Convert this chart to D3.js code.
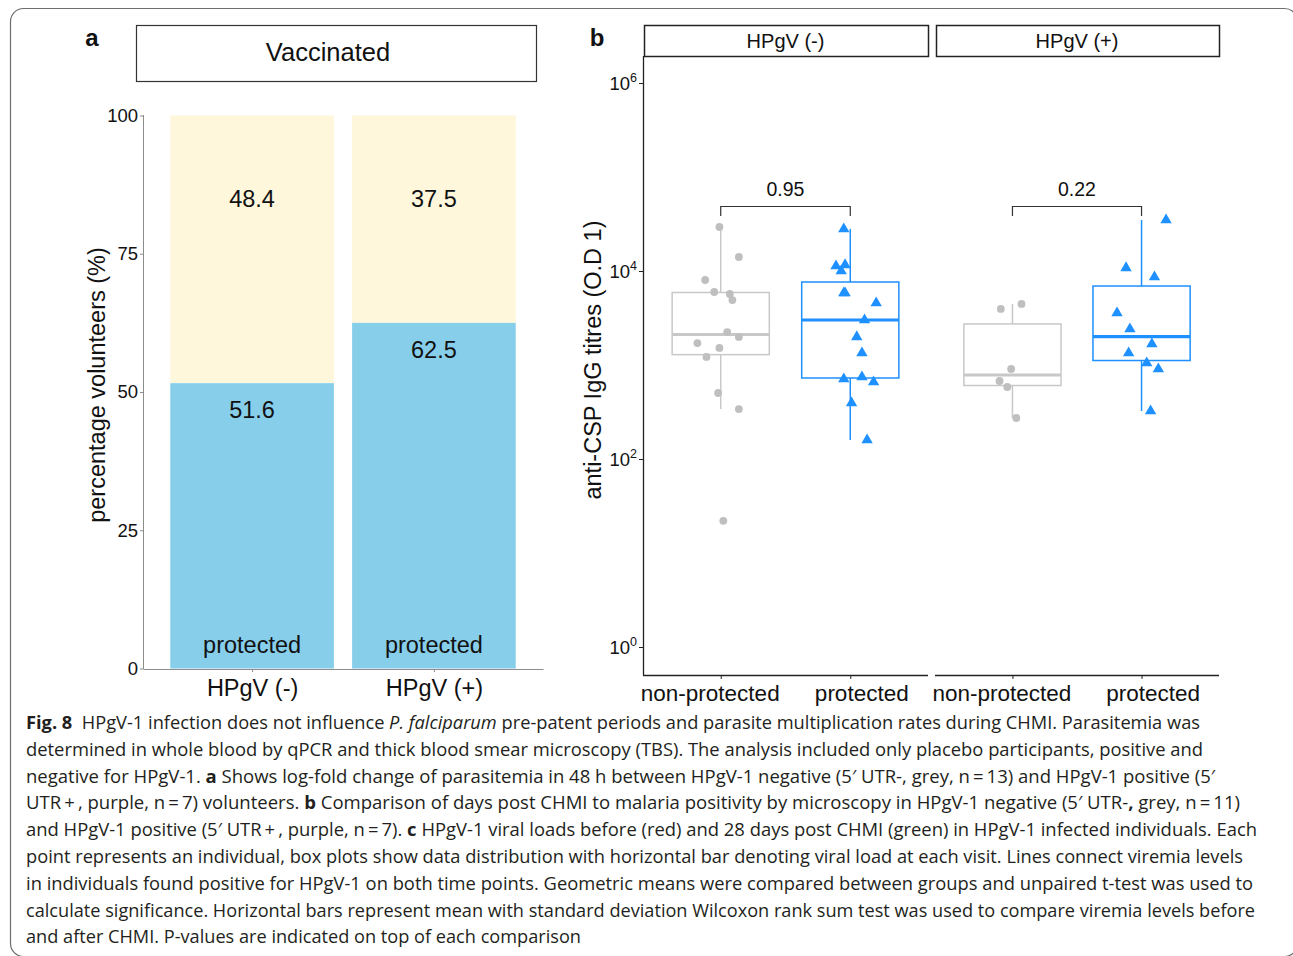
<!DOCTYPE html>
<html>
<head>
<meta charset="utf-8">
<script src="https://cdn.jsdelivr.net/npm/d3@7"></script>
<style>
  body { margin: 0; background: #fff; }
  svg { display: block; }
  .chart text { font-family: 'Liberation Sans', Arial, sans-serif; fill: #111; }
  .caption text { font-family: 'Open Sans', 'Noto Sans', sans-serif; fill: #231f20; }
</style>
</head>
<body>
<div id="fig"></div>
<script>
// ---- panel a: stacked percentages
const groupsA = ['HPgV (-)', 'HPgV (+)'];
const protectedPct = [51.6, 62.5];
const nonProtectedPct = [48.4, 37.5];
const pctTicks = [0, 25, 50, 75, 100];

// ---- panel b: anti-CSP IgG titres
const facets = ['HPgV (-)', 'HPgV (+)'];
const outcomes = ['non-protected', 'protected'];
const titrePowers = [0, 2, 4, 6];
const pValues = ['0.95', '0.22'];

const negNonProt = [29400, 14100, 8020, 5980, 5690, 4910, 2240, 1990, 1710, 1520, 1220, 504, 340, 22];
const negNonProtJitter = [-0.01, 0.14, -0.12, -0.05, 0.07, 0.09, 0.05, 0.14, -0.18, -0.01, -0.11, -0.02, 0.14, 0.02];
const negProt = [28000, 11600, 11300, 10000, 5830, 5830, 4570, 3010, 1990, 1340, 745, 710, 660, 394, 159];
const negProtJitter = [-0.05, -0.04, -0.11, -0.07, -0.05, -0.04, 0.20, 0.11, 0.05, 0.09, 0.09, -0.05, 0.18, 0.01, 0.13];
const posNonProt = [4460, 3950, 906, 676, 583, 273];
const posNonProtJitter = [0.07, -0.09, -0.01, -0.10, -0.04, 0.03];
const posProt = [34900, 10800, 8630, 3570, 2410, 1670, 1340, 1050, 906, 324];
const posProtJitter = [0.19, -0.12, 0.10, -0.19, -0.09, 0.08, -0.10, 0.04, 0.13, 0.07];

const colours = { 'non-protected': '#bfbfbf', 'protected': '#1e90ff' };
const boxColours = { 'non-protected': '#c8c8c8', 'protected': '#1e90ff' };

const $svg = d3.select('#fig').append('svg')
  .attr('width', 1293)
  .attr('height', 956);

// outer frame
$svg.append('rect')
  .attr('x', 10.5).attr('y', 8.5)
  .attr('width', 1287).attr('height', 948)
  .attr('rx', 13)
  .attr('fill', 'none')
  .attr('stroke', '#6d6e71')
  .attr('stroke-width', 1.2);

const $chart = $svg.append('g').attr('class', 'chart');

// ===== panel a =====
const ya = d3.scaleLinear().domain([0, 100]).range([668.5, 115.5]);
const xa = d3.scalePoint().domain(groupsA).range([143, 543]).padding(0.6);
const barW = xa.step() * 0.9;

const dataA = groupsA.map((g, i) => ({ group: g, prot: protectedPct[i], non: nonProtectedPct[i] }));

$chart.append('text')
  .attr('x', 92).attr('y', 37)
  .attr('text-anchor', 'middle').attr('dominant-baseline', 'central')
  .attr('font-size', 24).attr('font-weight', 700)
  .text('a');

$chart.append('rect')
  .attr('x', 136.5).attr('y', 25.5).attr('width', 400).attr('height', 56)
  .attr('fill', '#fff').attr('stroke', '#333').attr('stroke-width', 1.2);
$chart.append('text')
  .attr('x', 328).attr('y', 52)
  .attr('text-anchor', 'middle').attr('dominant-baseline', 'central')
  .attr('font-size', 25.5)
  .text('Vaccinated');

const $barsA = $chart.append('g').selectAll('g')
  .data(dataA).enter().append('g');

$barsA.append('rect')
  .attr('x', d => xa(d.group) - barW / 2)
  .attr('width', barW)
  .attr('y', d => ya(100))
  .attr('height', d => ya(d.prot) - ya(100))
  .attr('fill', '#fef7dc');

$barsA.append('rect')
  .attr('x', d => xa(d.group) - barW / 2)
  .attr('width', barW)
  .attr('y', d => ya(d.prot))
  .attr('height', d => ya(0) - ya(d.prot))
  .attr('fill', '#87ceeb');

$barsA.append('text')
  .attr('x', d => xa(d.group))
  .attr('y', d => ya(100) + 83)
  .attr('text-anchor', 'middle').attr('dominant-baseline', 'central')
  .attr('font-size', 23.5)
  .text(d => d.non);

$barsA.append('text')
  .attr('x', d => xa(d.group))
  .attr('y', d => ya(d.prot) + 27)
  .attr('text-anchor', 'middle').attr('dominant-baseline', 'central')
  .attr('font-size', 23.5)
  .text(d => d.prot);

$barsA.append('text')
  .attr('x', d => xa(d.group))
  .attr('y', ya(0) - 24)
  .attr('text-anchor', 'middle').attr('dominant-baseline', 'central')
  .attr('font-size', 23.5)
  .text('protected');

const yAxisA = $chart.append('g')
  .attr('transform', 'translate(143,0)')
  .call(d3.axisLeft(ya).tickValues(pctTicks).tickSize(3).tickSizeOuter(0).tickPadding(2));
yAxisA.selectAll('.domain, line').attr('stroke', '#8c8c8c');
yAxisA.selectAll('text').attr('font-size', 18.5).attr('fill', '#111');
yAxisA.select('.domain').attr('d', 'M0.5,115V669');

const xAxisA = $chart.append('g')
  .attr('transform', 'translate(0,669)')
  .call(d3.axisBottom(xa).tickSize(3).tickSizeOuter(0).tickPadding(7));
xAxisA.selectAll('.domain, line').attr('stroke', '#8c8c8c');
xAxisA.selectAll('text').attr('font-size', 23.5).attr('fill', '#111');

$chart.append('text')
  .attr('transform', 'translate(97,385) rotate(-90)')
  .attr('text-anchor', 'middle').attr('dominant-baseline', 'central')
  .attr('font-size', 23.5)
  .text('percentage volunteers (%)');

// ===== panel b =====
const yb = d3.scaleLog().domain([1, 1e6]).range([647, 83]);
const facetRanges = [[643, 928], [935, 1219]];
const xb = facetRanges.map(r => d3.scalePoint().domain(outcomes).range(r).padding(0.6));
const panelTop = 56, panelBottom = 675;

const groupsB = [
  { facet: 0, outcome: 'non-protected', values: negNonProt, jitter: negNonProtJitter },
  { facet: 0, outcome: 'protected', values: negProt, jitter: negProtJitter },
  { facet: 1, outcome: 'non-protected', values: posNonProt, jitter: posNonProtJitter },
  { facet: 1, outcome: 'protected', values: posProt, jitter: posProtJitter }
];

// box stats on the log scale, like ggplot does
groupsB.forEach(g => {
  const logs = g.values.map(v => Math.log10(v)).sort(d3.ascending);
  const q1 = d3.quantileSorted(logs, 0.25);
  const med = d3.quantileSorted(logs, 0.5);
  const q3 = d3.quantileSorted(logs, 0.75);
  const iqr = q3 - q1;
  const inside = logs.filter(l => l >= q1 - 1.5 * iqr && l <= q3 + 1.5 * iqr);
  g.stats = {
    q1: 10 ** q1, med: 10 ** med, q3: 10 ** q3,
    lo: 10 ** d3.min(inside), hi: 10 ** d3.max(inside)
  };
});

$chart.append('text')
  .attr('x', 597).attr('y', 37)
  .attr('text-anchor', 'middle').attr('dominant-baseline', 'central')
  .attr('font-size', 24).attr('font-weight', 700)
  .text('b');

facets.forEach((f, i) => {
  const [x0, x1] = facetRanges[i];
  $chart.append('rect')
    .attr('x', x0 + 1.5).attr('y', 25.5).attr('width', x1 - x0 - 1).attr('height', 31)
    .attr('fill', '#fff').attr('stroke', '#222').attr('stroke-width', 1.5);
  $chart.append('text')
    .attr('x', (x0 + x1) / 2).attr('y', 41)
    .attr('text-anchor', 'middle').attr('dominant-baseline', 'central')
    .attr('font-size', 20)
    .text(f);

  const xAxisB = $chart.append('g')
    .attr('transform', `translate(0,${panelBottom})`)
    .call(d3.axisBottom(xb[i]).tickSize(4).tickSizeOuter(0).tickPadding(6));
  xAxisB.select('.domain').attr('d', `M${x0},0.5H${x1}`).attr('stroke', '#222').attr('stroke-width', 1.3);
  xAxisB.selectAll('line').attr('stroke', '#222');
  xAxisB.selectAll('text')
    .attr('font-size', 22.5).attr('fill', '#111')
    .attr('dx', d => d === 'protected' ? 11 : -11);
});

const yAxisB = $chart.append('g')
  .attr('transform', 'translate(643,0)')
  .call(d3.axisLeft(yb).tickValues(titrePowers.map(p => 10 ** p)).tickSize(4).tickSizeOuter(0).tickFormat(''));
yAxisB.select('.domain').attr('d', `M0.5,${panelTop}V${panelBottom}`).attr('stroke', '#222').attr('stroke-width', 1.3);
yAxisB.selectAll('line').attr('stroke', '#222');

const $yLabels = $chart.append('g').selectAll('text')
  .data(titrePowers).enter().append('text')
  .attr('x', 637)
  .attr('y', p => yb(10 ** p) + 7)
  .attr('text-anchor', 'end')
  .attr('font-size', 18.5);
$yLabels.append('tspan').text('10');
$yLabels.append('tspan')
  .attr('font-size', 12.5)
  .attr('dy', -8)
  .text(p => p);

$chart.append('text')
  .attr('transform', 'translate(593,360) rotate(-90)')
  .attr('text-anchor', 'middle').attr('dominant-baseline', 'central')
  .attr('font-size', 23.5)
  .text('anti-CSP IgG titres (O.D 1)');

// boxes
const boxW = xb[0].step() * 0.75;
const $boxes = $chart.append('g').selectAll('g')
  .data(groupsB).enter().append('g')
  .attr('stroke', d => boxColours[d.outcome])
  .attr('fill', 'none');

$boxes.append('line')
  .attr('x1', d => xb[d.facet](d.outcome)).attr('x2', d => xb[d.facet](d.outcome))
  .attr('y1', d => yb(d.stats.hi)).attr('y2', d => yb(d.stats.q3))
  .attr('stroke-width', 1.5);
$boxes.append('line')
  .attr('x1', d => xb[d.facet](d.outcome)).attr('x2', d => xb[d.facet](d.outcome))
  .attr('y1', d => yb(d.stats.q1)).attr('y2', d => yb(d.stats.lo))
  .attr('stroke-width', 1.5);
$boxes.append('rect')
  .attr('x', d => xb[d.facet](d.outcome) - boxW / 2)
  .attr('width', boxW)
  .attr('y', d => yb(d.stats.q3))
  .attr('height', d => yb(d.stats.q1) - yb(d.stats.q3))
  .attr('stroke-width', 1.5);
$boxes.append('line')
  .attr('x1', d => xb[d.facet](d.outcome) - boxW / 2)
  .attr('x2', d => xb[d.facet](d.outcome) + boxW / 2)
  .attr('y1', d => yb(d.stats.med)).attr('y2', d => yb(d.stats.med))
  .attr('stroke-width', 3.2);

// jittered points
const points = groupsB.flatMap(g => g.values.map((v, k) => ({
  facet: g.facet, outcome: g.outcome, value: v, jitter: g.jitter[k]
})));

$chart.append('g').selectAll('path')
  .data(points).enter().append('path')
  .attr('transform', d => `translate(${xb[d.facet](d.outcome) + d.jitter * xb[d.facet].step()},${yb(d.value)})`)
  .attr('d', d => d.outcome === 'protected'
    ? d3.symbol(d3.symbolTriangle, 56)()
    : d3.symbol(d3.symbolCircle, 48)())
  .attr('fill', d => colours[d.outcome]);

// significance brackets
facets.forEach((f, i) => {
  const xl = xb[i]('non-protected'), xr = xb[i]('protected');
  $chart.append('path')
    .attr('d', `M${xl},216V206.5H${xr}V216`)
    .attr('fill', 'none').attr('stroke', '#333').attr('stroke-width', 1.2);
  $chart.append('text')
    .attr('x', (xl + xr) / 2).attr('y', 189)
    .attr('text-anchor', 'middle').attr('dominant-baseline', 'central')
    .attr('font-size', 19.5)
    .text(pValues[i]);
});

// ===== caption =====
const captionLines = [
  [['Fig. 8', 'b'], ['  HPgV-1 infection does not influence '], ['P. falciparum', 'i'], [' pre-patent periods and parasite multiplication rates during CHMI. Parasitemia was']],
  [['determined in whole blood by qPCR and thick blood smear microscopy (TBS). The analysis included only placebo participants, positive and']],
  [['negative for HPgV-1. '], ['a', 'b'], [' Shows log-fold change of parasitemia in 48 h between HPgV-1 negative (5\u2032 UTR-, grey, n\u2009=\u200913) and HPgV-1 positive (5\u2032']],
  [['UTR\u2009+\u2009, purple, n\u2009=\u20097) volunteers. '], ['b', 'b'], [' Comparison of days post CHMI to malaria positivity by microscopy in HPgV-1 negative (5\u2032 UTR-'], [',', 'b'], [' grey, n\u2009=\u200911)']],
  [['and HPgV-1 positive (5\u2032 UTR\u2009+\u2009, purple, n\u2009=\u20097). '], ['c', 'b'], [' HPgV-1 viral loads before (red) and 28 days post CHMI (green) in HPgV-1 infected individuals. Each']],
  [['point represents an individual, box plots show data distribution with horizontal bar denoting viral load at each visit. Lines connect viremia levels']],
  [['in individuals found positive for HPgV-1 on both time points. Geometric means were compared between groups and unpaired t-test was used to']],
  [['calculate significance. Horizontal bars represent mean with standard deviation Wilcoxon rank sum test was used to compare viremia levels before']],
  [['and after CHMI. P-values are indicated on top of each comparison']]
];
const captionEnds = [1200, 1203, 1215, 1240, 1257, 1243, 1253, 1255, 581];

const $caption = $svg.append('g').attr('class', 'caption');
captionLines.forEach((segs, i) => {
  const t = $caption.append('text')
    .attr('x', 26)
    .attr('y', 729 + i * 26.8)
    .attr('font-size', 18)
    .attr('textLength', captionEnds[i] - 26)
    .attr('lengthAdjust', 'spacingAndGlyphs')
    .attr('xml:space', 'preserve')
    .style('white-space', 'pre');
  segs.forEach(([s, st]) => {
    t.append('tspan')
      .attr('font-weight', st === 'b' ? 700 : 400)
      .attr('font-style', st === 'i' ? 'italic' : 'normal')
      .text(s);
  });
});
</script>
</body>
</html>
